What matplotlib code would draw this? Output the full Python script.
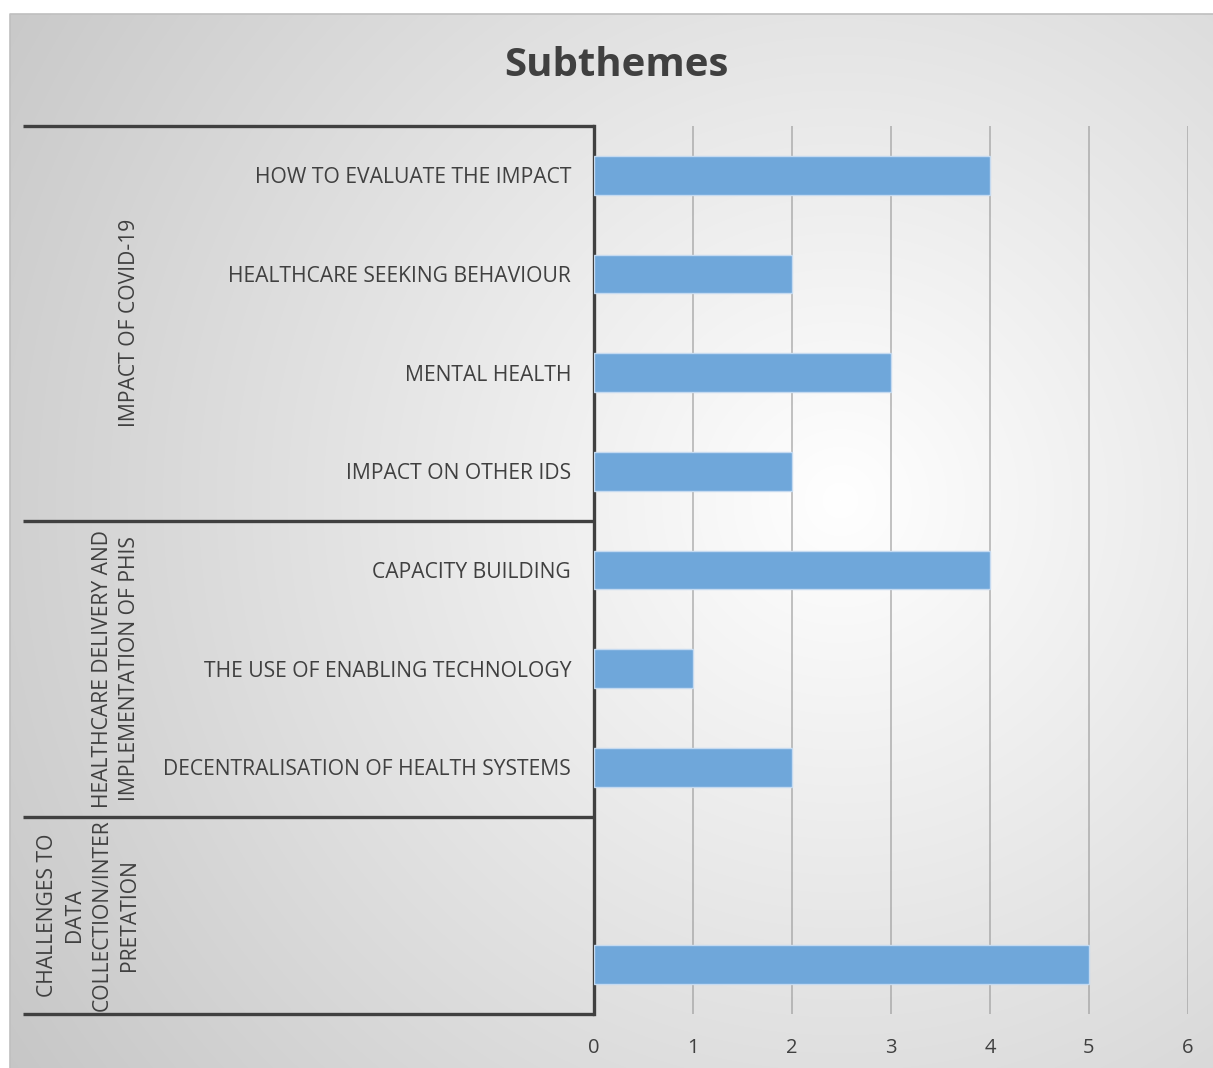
import numpy as np
import matplotlib
matplotlib.use("Agg")
import matplotlib.pyplot as plt
import matplotlib.transforms as mtransforms

plt.rcParams['font.family'] = ['Open Sans', 'DejaVu Sans']

# ---------- data ----------
groups = ["IMPACT OF COVID-19",
          "HEALTHCARE DELIVERY AND\nIMPLEMENTATION OF PHIS",
          "CHALLENGES TO\nDATA\nCOLLECTION/INTER\nPRETATION"]
group_sizes = [4, 3, 2]
subthemes = ["HOW TO EVALUATE THE IMPACT",
             "HEALTHCARE SEEKING BEHAVIOUR",
             "MENTAL HEALTH",
             "IMPACT ON OTHER IDS",
             "CAPACITY BUILDING",
             "THE USE OF ENABLING TECHNOLOGY",
             "DECENTRALISATION OF HEALTH SYSTEMS",
             "",
             ""]
counts = [4, 2, 3, 2, 4, 1, 2, np.nan, 5]
xticks = [0, 1, 2, 3, 4, 5, 6]

TXT = "#404040"
BAR = "#6fa7da"

W, H = 1213, 1068
fig = plt.figure(figsize=(W / 100, H / 100), dpi=100)

# ---------- radial grey background ----------
bg = fig.add_axes([0, 0, 1, 1])
yy, xx = np.mgrid[0:H, 0:W]
d = np.hypot((xx - 840) / 1000, (yy - 500) / 1000)
v = 1 - 0.22 * np.clip(d, 0, 1)
img = np.dstack([v, v, v])
img[:14, :] = 1
img[:, :10] = 1
bg.imshow(img, extent=[0, W, H, 0], aspect="auto", interpolation="bilinear")
bg.plot([10, 10, W], [H, 14, 14], color="#bfbfbf", lw=1.2)
bg.set_xlim(0, W)
bg.set_ylim(H, 0)
bg.axis("off")

# ---------- bar axes ----------
x0, x1, y0, y1 = 594, 1188, 126, 1014
ax = fig.add_axes([x0 / W, 1 - y1 / H, (x1 - x0) / W, (y1 - y0) / H])
ax.set_facecolor("none")

pos = np.arange(len(subthemes))
ax.barh(pos, counts, height=0.39, color=BAR, edgecolor="#c5daf0", linewidth=1.0, zorder=3)
ax.set_ylim(len(subthemes) - 0.5, -0.5)
ax.set_xlim(xticks[0], xticks[-1])
ax.set_xticks(xticks)
ax.set_xticklabels([str(t) for t in xticks], fontsize=14.5, color=TXT)
ax.tick_params(axis="x", length=0, pad=17)
ax.set_yticks(pos)
ax.set_yticklabels(subthemes, fontsize=15.2, color=TXT)
ax.tick_params(axis="y", length=0, pad=16.5)
for t in xticks[1:]:
    ax.axvline(t, color="#9a9a9a", lw=1.2, alpha=0.7, zorder=1)
for s in ["top", "right", "bottom"]:
    ax.spines[s].set_visible(False)
ax.spines["left"].set_color(TXT)
ax.spines["left"].set_linewidth(2.4)

# group separators and labels
tr = mtransforms.blended_transform_factory(ax.transAxes, ax.transData)
left_frac = (23 - x0) / (x1 - x0)
label_frac = (140 - x0) / (x1 - x0)
edges = np.concatenate([[0], np.cumsum(group_sizes)]) - 0.5
for e in edges:
    ax.plot([left_frac, 0], [e, e], color=TXT, lw=2.4, transform=tr,
            clip_on=False, solid_capstyle="butt")
for g, a, b in zip(groups, edges[:-1], edges[1:]):
    ax.text(label_frac, (a + b) / 2, g, transform=tr, rotation=90,
            ha="right", va="center", multialignment="center",
            fontsize=15.2, color=TXT, linespacing=1.4)

fig.text(616 / W, 1 - 65 / H, "Subthemes", ha="center", va="center",
         fontsize=29, fontweight="bold", color=TXT)

fig.savefig("out.png", dpi=100)
